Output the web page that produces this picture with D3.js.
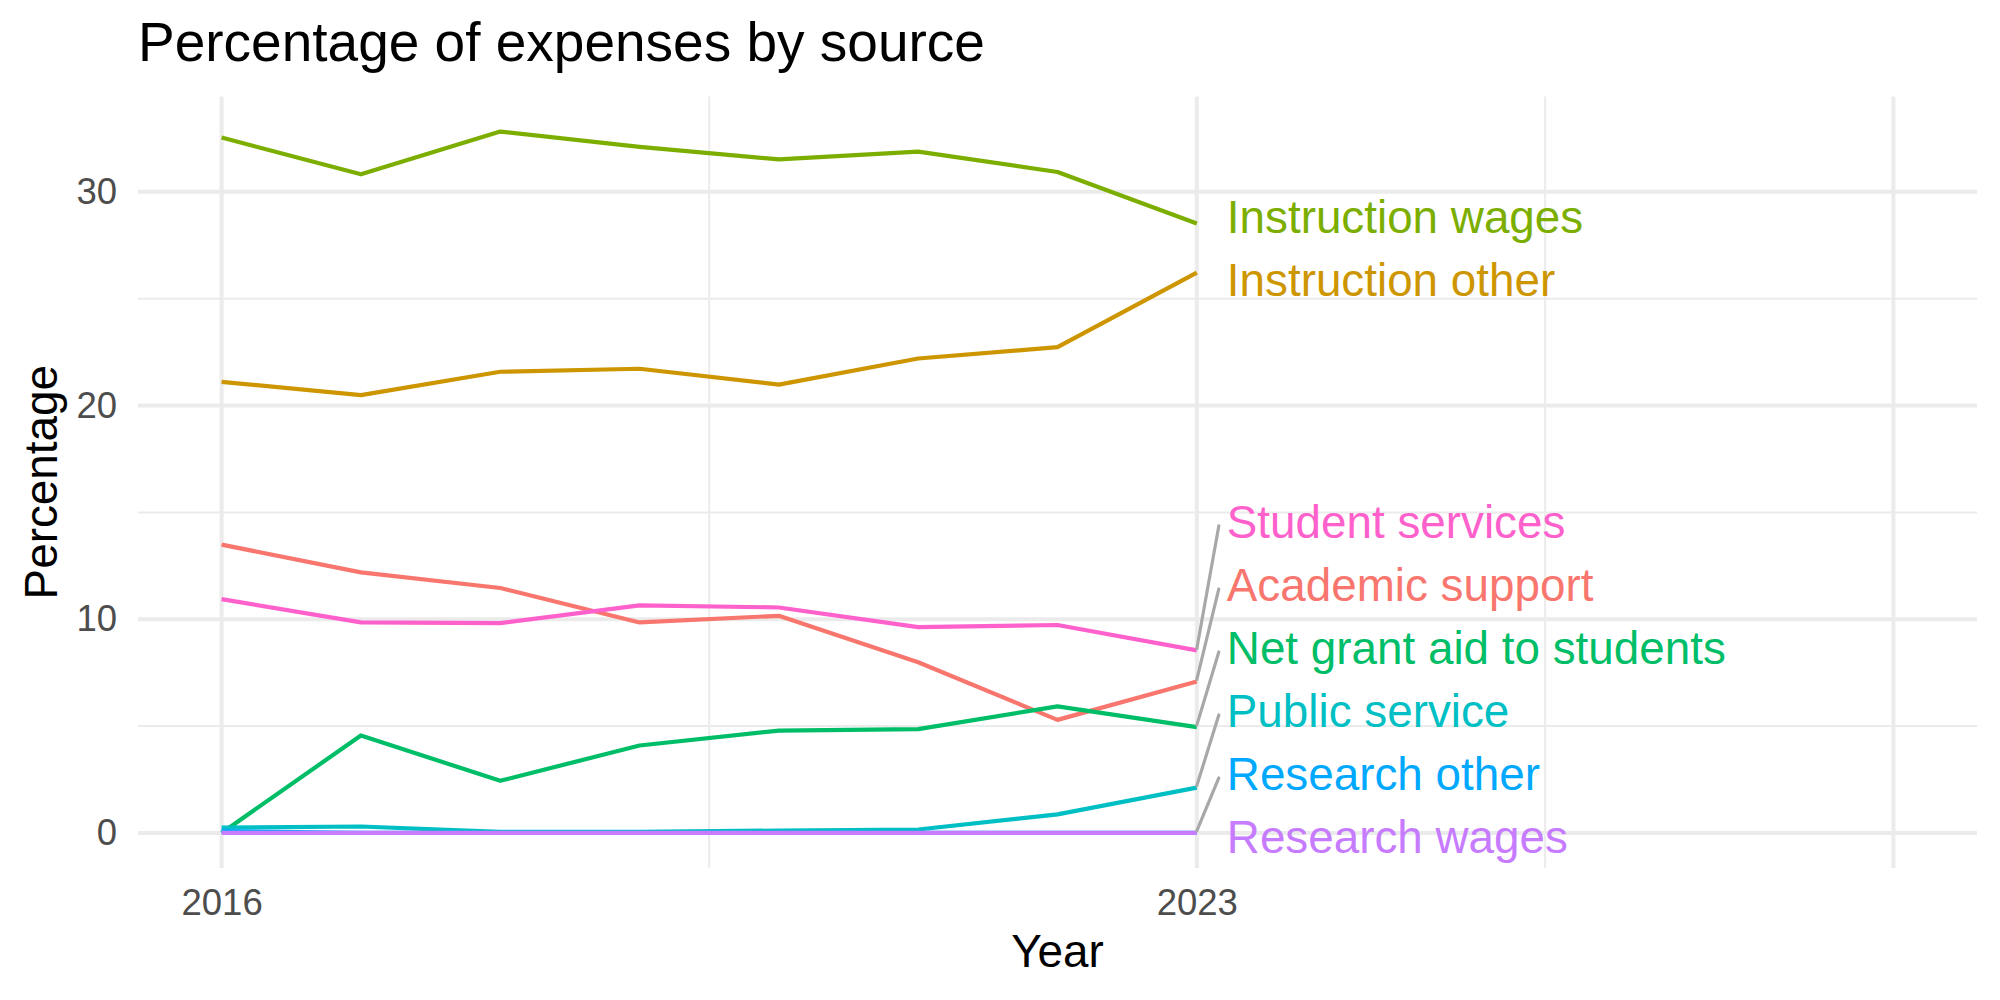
<!DOCTYPE html>
<html>
<head>
<meta charset="utf-8">
<script src="https://cdn.jsdelivr.net/npm/d3@7"></script>
<style>
  html, body { margin: 0; padding: 0; background: #ffffff; }
  svg { display: block; }
  text { font-family: "Liberation Sans", Arial, Helvetica, sans-serif; }
</style>
</head>
<body>
<svg id="chart" width="2000" height="1000"></svg>
<script>
// ---------- data ----------
const years = [2016, 2017, 2018, 2019, 2020, 2021, 2022, 2023];
const seriesNames = [
  "Academic support", "Instruction other", "Instruction wages",
  "Net grant aid to students", "Public service", "Research other",
  "Research wages", "Student services"
];
const academicSupport  = [13.49, 12.19, 11.46, 9.85, 10.16, 7.99, 5.29, 7.09];
const instructionOther = [21.11, 20.49, 21.58, 21.72, 20.98, 22.20, 22.73, 26.22];
const instructionWages = [32.54, 30.82, 32.82, 32.10, 31.52, 31.88, 30.93, 28.52];
const netGrantAid      = [0.00, 4.56, 2.44, 4.09, 4.79, 4.86, 5.92, 4.95];
const publicService    = [0.25, 0.30, 0.05, 0.05, 0.11, 0.16, 0.87, 2.12];
const researchOther    = [0.08, 0.00, 0.00, 0.00, 0.00, 0.00, 0.00, 0.00];
const researchWages    = [0.00, 0.00, 0.00, 0.00, 0.00, 0.00, 0.00, 0.00];
const studentServices  = [10.94, 9.85, 9.82, 10.65, 10.55, 9.63, 9.73, 8.54];
const seriesValues = [academicSupport, instructionOther, instructionWages, netGrantAid,
                      publicService, researchOther, researchWages, studentServices];
const seriesColors = ["#F8766D", "#CD9600", "#7CAE00", "#00BE67",
                      "#00BFC4", "#00A9FF", "#C77CFF", "#FF61CC"];
const xLimits = [2016, 2028];
const xBreaks = [2016, 2023, 2028];
const xTickLabels = ["2016", "2023", ""];
const xMinorBreaks = [2019.5, 2025.5];
const yBreaks = [0, 10, 20, 30];
const yTickLabels = ["0", "10", "20", "30"];
const yMinorBreaks = [5, 15, 25];
const titleText = "Percentage of expenses by source";
const xTitle = "Year";
const yTitle = "Percentage";

// ---------- layout ----------
const panel = { left: 138, right: 1977, top: 96.5, bottom: 868 };
const svg = d3.select("#chart");
svg.append("rect").attr("width", 2000).attr("height", 1000).attr("fill", "#ffffff");

const xSpan = xLimits[1] - xLimits[0];
const x = d3.scaleLinear()
  .domain([xLimits[0] - 0.05 * xSpan, xLimits[1] + 0.05 * xSpan])
  .range([panel.left, panel.right]);
const allVals = seriesValues.flat();
const yMin = d3.min(allVals), yMax = d3.max(allVals);
const ySpan = yMax - yMin;
const y = d3.scaleLinear()
  .domain([yMin - 0.05 * ySpan, yMax + 0.05 * ySpan])
  .range([panel.bottom, panel.top]);

// ---------- grid ----------
const grid = svg.append("g");
grid.selectAll("line.ymin").data(yMinorBreaks).join("line")
  .attr("x1", panel.left).attr("x2", panel.right)
  .attr("y1", d => y(d)).attr("y2", d => y(d))
  .attr("stroke", "#EBEBEB").attr("stroke-width", 2);
grid.selectAll("line.xmin").data(xMinorBreaks).join("line")
  .attr("y1", panel.top).attr("y2", panel.bottom)
  .attr("x1", d => x(d)).attr("x2", d => x(d))
  .attr("stroke", "#EBEBEB").attr("stroke-width", 2);
grid.selectAll("line.ymaj").data(yBreaks).join("line")
  .attr("x1", panel.left).attr("x2", panel.right)
  .attr("y1", d => y(d)).attr("y2", d => y(d))
  .attr("stroke", "#EBEBEB").attr("stroke-width", 4);
grid.selectAll("line.xmaj").data(xBreaks).join("line")
  .attr("y1", panel.top).attr("y2", panel.bottom)
  .attr("x1", d => x(d)).attr("x2", d => x(d))
  .attr("stroke", "#EBEBEB").attr("stroke-width", 4);

// ---------- axes (text only, theme_minimal) ----------
const yAxis = d3.axisLeft(y).tickValues(yBreaks)
  .tickFormat((d, i) => yTickLabels[i]).tickSize(0).tickPadding(21);
const gy = svg.append("g").attr("transform", `translate(${panel.left},0)`).call(yAxis);
gy.select(".domain").remove();
gy.selectAll("text").attr("font-size", 36.5).attr("fill", "#4D4D4D")
  .attr("font-family", '"Liberation Sans", Arial, sans-serif');

const xAxis = d3.axisBottom(x).tickValues(xBreaks)
  .tickFormat((d, i) => xTickLabels[i]).tickSize(0).tickPadding(21);
const gx = svg.append("g").attr("transform", `translate(0,${panel.bottom})`).call(xAxis);
gx.select(".domain").remove();
gx.selectAll("text").attr("font-size", 36.5).attr("fill", "#4D4D4D")
  .attr("font-family", '"Liberation Sans", Arial, sans-serif');

// ---------- lines ----------
const line = d3.line().x((d, i) => x(years[i])).y(d => y(d));
svg.append("g").selectAll("path").data(seriesValues).join("path")
  .attr("d", d => line(d))
  .attr("fill", "none")
  .attr("stroke", (d, i) => seriesColors[i])
  .attr("stroke-width", 4.2)
  .attr("stroke-linejoin", "round");

// ---------- repelled end labels ----------
const lastIdx = years.length - 1;
const labelSpacing = 63;
const labelFont = 45.8;
const bottomLimit = y(0) + 4;
let items = seriesNames.map((name, i) => ({
  name, idx: i, color: seriesColors[i], value: seriesValues[i][lastIdx],
  target: y(seriesValues[i][lastIdx])
}));
items.sort((a, b) => (b.target - a.target) || (b.idx - a.idx)); // bottom first
let clusters = items.map(it => ({ members: [it] }));
function layoutCluster(c) {
  const n = c.members.length;
  let center = d3.mean(c.members, m => m.target);
  const bottom = center + (n - 1) / 2 * labelSpacing;
  if (bottom > bottomLimit) center -= (bottom - bottomLimit);
  c.members.forEach((m, k) => { m.pos = center + ((n - 1) / 2 - k) * labelSpacing; });
}
clusters.forEach(layoutCluster);
let merged = true;
while (merged) {
  merged = false;
  for (let k = 0; k < clusters.length - 1; k++) {
    const a = clusters[k], b = clusters[k + 1];
    const aTop = a.members[a.members.length - 1].pos;
    const bBottom = b.members[0].pos;
    if (aTop - bBottom < labelSpacing) {
      const c = { members: a.members.concat(b.members) };
      layoutCluster(c);
      clusters.splice(k, 2, c);
      merged = true;
      break;
    }
  }
}

const xEnd = x(years[lastIdx]);
const labelX = xEnd + 30;
const segG = svg.append("g");
items.forEach(it => {
  const x2 = xEnd + 22, y2 = it.pos + 4;
  const len = Math.hypot(x2 - xEnd, y2 - it.target);
  if (len > 30) {
    segG.append("line")
      .attr("x1", xEnd).attr("y1", it.target - 2)
      .attr("x2", x2).attr("y2", y2)
      .attr("stroke", "#A8A8A8").attr("stroke-width", 3.2)
      .attr("stroke-linecap", "round");
  }
});
svg.append("g").selectAll("text").data(items).join("text")
  .attr("x", labelX)
  .attr("y", d => d.pos + 0.358 * labelFont)
  .attr("font-size", labelFont)
  .attr("fill", d => d.color)
  .text(d => d.name);

// ---------- titles ----------
svg.append("text").attr("x", panel.left).attr("y", 60.5)
  .attr("font-size", 55).attr("fill", "#000").text(titleText);
svg.append("text").attr("x", (panel.left + panel.right) / 2).attr("y", 966.5)
  .attr("text-anchor", "middle").attr("font-size", 45.8).attr("fill", "#000").text(xTitle);
svg.append("text")
  .attr("transform", `translate(57,${(panel.top + panel.bottom) / 2}) rotate(-90)`)
  .attr("text-anchor", "middle").attr("font-size", 45.8).attr("fill", "#000").text(yTitle);
</script>
</body>
</html>
